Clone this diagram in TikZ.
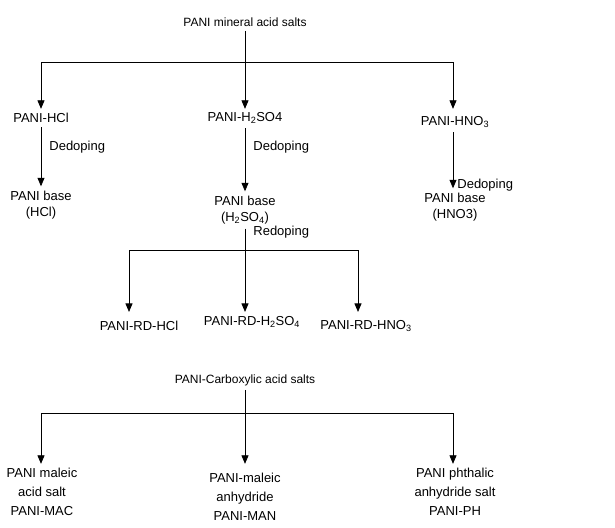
\documentclass[tikz,border=0pt]{standalone}
\usepackage{fontspec}
\setmainfont{Liberation Sans}
\usetikzlibrary{arrows.meta}
\begin{document}
\begin{tikzpicture}[x=1pt,y=-1pt,line width=0.8pt,
  every node/.style={font=\fontsize{13}{16.5}\selectfont,inner sep=4pt,align=center},
  arr/.style={-{Triangle[width=7pt,length=8.5pt]}},
  head/.style={font=\fontsize{12}{14}\selectfont},
  tall/.style={font=\fontsize{13}{19}\selectfont}]
\useasboundingbox (0,0) rectangle (615,527);
% mineral acid salts
\node[head] (min) at (245,22) {PANI mineral acid salts};
\node (hcl) at (41,118) {PANI-HCl};
\node (hso) at (245,118) {PANI-H\textsubscript{2}SO4};
\node (hno) at (455,122) {PANI-HNO\textsubscript{3}};
\coordinate (b1l) at (41,62);
\coordinate (b1r) at (453,62);
\draw (b1l) -- (b1r);
\draw[arr] (min) -- (min |- hcl.north);
\draw[arr] (b1l) -- (hcl);
\draw[arr] (b1r) -- (b1r |- hcl.north);
% dedoping
\node (bhcl) at (41,205) {PANI base\\(HCl)};
\node (bhso) at (245,210) {PANI base\\(H\textsubscript{2}SO\textsubscript{4})};
\node (bhno) at (455,207) {PANI base\\(HNO3)};
\draw[arr] (hcl) -- (bhcl);
\draw[arr] (hso) -- (bhso);
\draw[arr] (b1r |- hno.south) -- (b1r |- bhno.north);
\node[anchor=west] (d1) at (45,147) {Dedoping};
\node[anchor=west] (d2) at (249,147) {Dedoping};
\node[anchor=west] (d3) at (453,185) {Dedoping};
% redoping
\node[anchor=west] (rd) at (249,232) {Redoping};
\coordinate (b2l) at (129,250);
\coordinate (b2r) at (358,250);
\node (rdhcl) at (139,326) {PANI-RD-HCl};
\node (rdhso) at (252,322) {PANI-RD-H\textsubscript{2}SO\textsubscript{4}};
\node (rdhno) at (366,326) {PANI-RD-HNO\textsubscript{3}};
\draw (b2l) -- (b2r);
\draw[arr] (bhso) -- (bhso |- rdhso.north);
\draw[arr] (b2l) -- (b2l |- rdhso.north);
\draw[arr] (b2r) -- (b2r |- rdhso.north);
% carboxylic acid salts
\node[head] (carb) at (245,380) {PANI-Carboxylic acid salts};
\coordinate (b3l) at (41,413);
\coordinate (b3r) at (453,413);
\node[tall] (mac) at (42,492) {PANI maleic\\acid salt\\PANI-MAC};
\node[tall] (man) at (245,497) {PANI-maleic\\anhydride\\PANI-MAN};
\node[tall] (ph) at (455,492) {PANI phthalic\\anhydride salt\\PANI-PH};
\draw (b3l) -- (b3r);
\draw[arr] (carb) -- (carb |- mac.north);
\draw[arr] (b3l) -- (b3l |- mac.north);
\draw[arr] (b3r) -- (b3r |- mac.north);
\end{tikzpicture}
\end{document}
